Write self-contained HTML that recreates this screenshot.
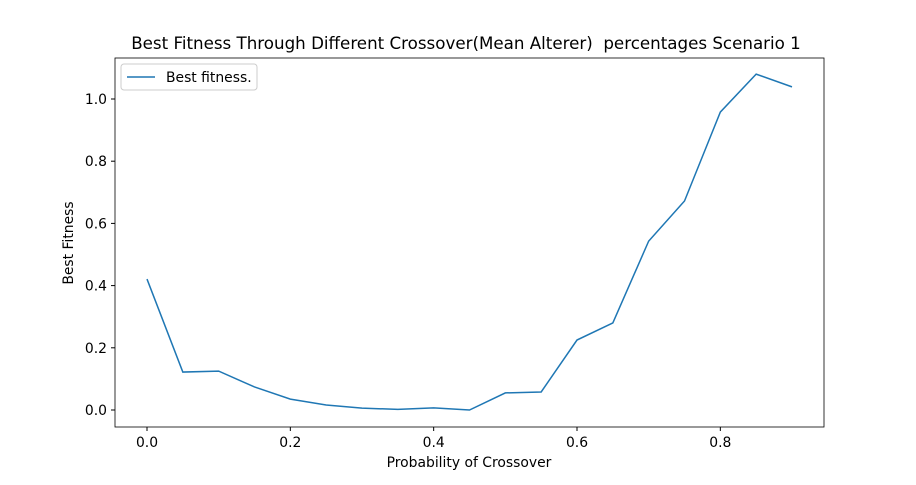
<!DOCTYPE html>
<html><head><meta charset="utf-8"><style>
body{margin:0;background:#fff;}
svg text{font-family:"DejaVu Sans","Liberation Sans",sans-serif;fill:#000;white-space:pre;}
</style></head><body>
<svg id="chart" width="916" height="480" xmlns="http://www.w3.org/2000/svg">
<rect width="916" height="480" fill="#fff"/>
<text x="466" y="49" font-size="16.7" text-anchor="middle">Best Fitness Through Different Crossover(Mean Alterer)&#160; percentages Scenario 1</text>
<g id="xticks"></g><g id="yticks"></g>
<polyline id="line" fill="none" stroke="#1f77b4" stroke-width="1.5"/>
<rect x="115" y="58" width="709" height="369" fill="none" stroke="#000" stroke-width="0.8"/>
<text x="469" y="467" font-size="13.9" text-anchor="middle">Probability of Crossover</text>
<text x="73" y="243" font-size="13.9" text-anchor="middle" transform="rotate(-90 73 243)">Best Fitness</text>
<g>
<rect x="121" y="64" width="136" height="26" rx="3" fill="#fff" stroke="#ccc"/>
<line x1="127" y1="77" x2="155" y2="77" stroke="#1f77b4" stroke-width="1.5"/>
<text x="166" y="82" font-size="13.9">Best fitness.</text>
</g>
</svg>
<script>
const xValues=[0,0.05,0.1,0.15,0.2,0.25,0.3,0.35,0.4,0.45,0.5,0.55,0.6,0.65,0.7,0.75,0.8,0.85,0.9];
const yValues=[0.421,0.122,0.125,0.074,0.035,0.016,0.006,0.002,0.007,0.0,0.055,0.058,0.225,0.28,0.543,0.672,0.958,1.08,1.039];
const xTicks=[0,0.2,0.4,0.6,0.8];
const yTicks=[0,0.2,0.4,0.6,0.8,1.0];
const xs=v=>147+v*(792-147)/0.9;
const ys=v=>410-v*311;
const NS="http://www.w3.org/2000/svg";
document.getElementById('line').setAttribute('points',xValues.map((x,i)=>xs(x)+','+ys(yValues[i])).join(' '));
const xg=document.getElementById('xticks');
xTicks.forEach(t=>{
 const l=document.createElementNS(NS,'line');
 
 
 l.setAttribute('x1',xs(t));l.setAttribute('x2',xs(t));l.setAttribute('y1',427);l.setAttribute('y2',431);l.setAttribute('stroke','#000');
 xg.appendChild(l);
 const tx=document.createElementNS(NS,'text');
 
 
 tx.setAttribute('x',xs(t));tx.setAttribute('y',447);tx.setAttribute('font-size','13.9');tx.setAttribute('text-anchor','middle');
 tx.textContent=t.toFixed(1);xg.appendChild(tx);
});
const yg=document.getElementById('yticks');
yTicks.forEach(t=>{
 const l=document.createElementNS(NS,'line');
 
 
 l.setAttribute('x1',111);l.setAttribute('x2',115);l.setAttribute('y1',ys(t));l.setAttribute('y2',ys(t));l.setAttribute('stroke','#000');
 yg.appendChild(l);
 const tx=document.createElementNS(NS,'text');
 
 
 tx.setAttribute('x',107);tx.setAttribute('y',ys(t)+5);tx.setAttribute('font-size','13.9');tx.setAttribute('text-anchor','end');
 tx.textContent=t.toFixed(1);yg.appendChild(tx);
});
</script>
</body></html>
